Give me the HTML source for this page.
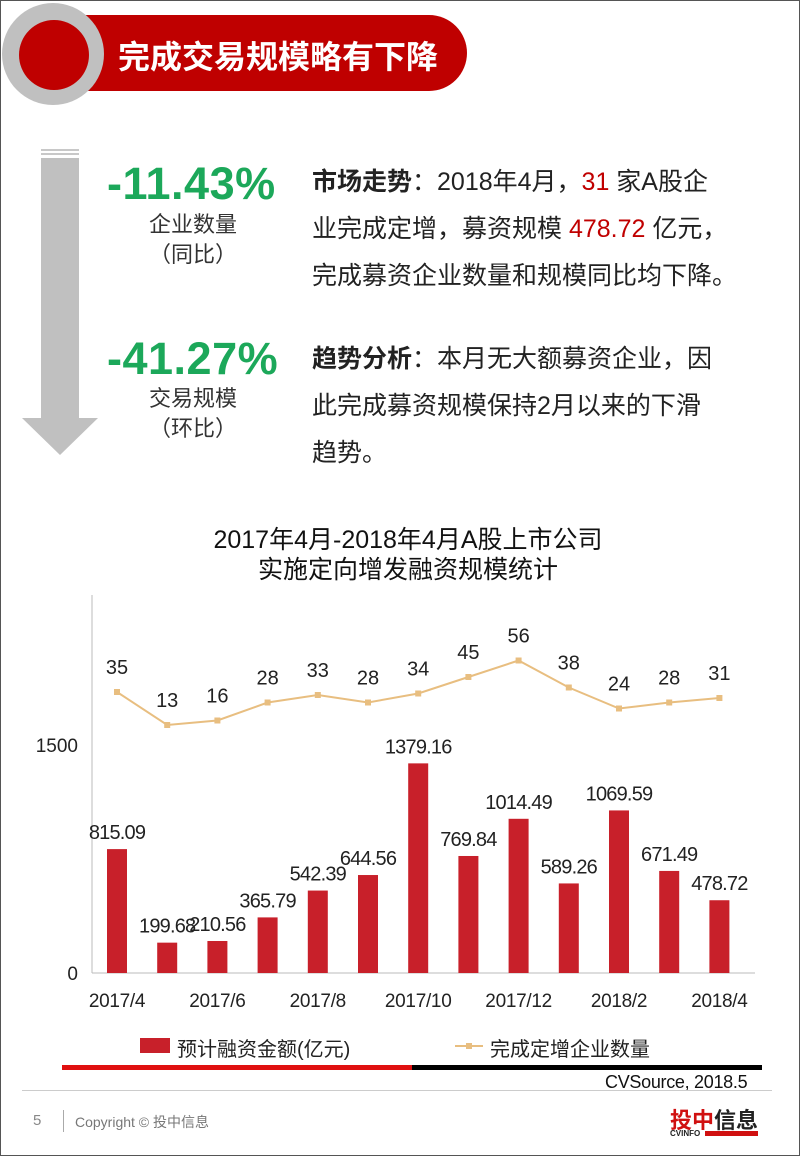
<!DOCTYPE html>
<html><head><meta charset="utf-8">
<style>
body{margin:0;width:800px;height:1156px;position:relative;overflow:hidden;background:#fff;font-family:"Liberation Sans","Noto Sans CJK SC",sans-serif;}
.abs{position:absolute;}
.txt{font-size:25px;color:#222;white-space:nowrap;}
.red{color:#c00000;}
.green{color:#1ca85a;font-weight:bold;font-size:45px;letter-spacing:0.5px;}
.sub{font-size:22px;color:#333;text-align:center;width:160px;}
</style></head><body>
<div class="abs" style="left:0;top:0;width:798px;height:1154px;border:1px solid #555;"></div>
<div class="abs" style="left:85px;top:15px;width:382px;height:76px;background:#bf0000;border-radius:0 38px 38px 0;"></div>
<div class="abs" style="left:2px;top:3px;width:102px;height:102px;border-radius:50%;background:#c0c0c0;"></div>
<div class="abs" style="left:19px;top:20px;width:70px;height:70px;border-radius:50%;background:#bf0000;"></div>
<div class="abs" style="left:118px;top:32px;font-size:32px;font-weight:bold;color:#fff;white-space:nowrap;">完成交易规模略有下降</div>

<svg class="abs" style="left:0;top:140px" width="110" height="320">
<rect x="41" y="9" width="38" height="2" fill="#c8c8c8"/><rect x="41" y="13" width="38" height="2" fill="#c8c8c8"/>
<polygon points="41,18 79,18 79,278 98,278 60,315 22,278 41,278" fill="#c0c0c0"/>
</svg>
<div class="abs green" style="left:107px;top:158px;">-11.43%</div>
<div class="abs sub" style="left:113px;top:210px;line-height:30px;">企业数量<br>（同比）</div>
<div class="abs green" style="left:107px;top:333px;">-41.27%</div>
<div class="abs sub" style="left:113px;top:384px;line-height:30px;">交易规模<br>（环比）</div>

<div class="abs txt" style="left:312px;top:159px;line-height:47px;"><b>市场走势</b>：2018年4月，<span class="red">31</span> 家A股企<br>业完成定增，募资规模 <span class="red">478.72</span> 亿元，<br>完成募资企业数量和规模同比均下降。</div>
<div class="abs txt" style="left:312px;top:336px;line-height:47px;"><b>趋势分析</b>：本月无大额募资企业，因<br>此完成募资规模保持2月以来的下滑<br>趋势。</div>

<div class="abs" style="left:0;width:816px;top:525px;text-align:center;font-size:25px;line-height:30px;color:#111;">2017年4月-2018年4月A股上市公司<br>实施定向增发融资规模统计</div>

<svg class="abs" id="chart" style="left:0;top:580px" width="800" height="440"></svg>

<div class="abs" style="left:140px;top:1038px;width:30px;height:15px;background:#c8202a;"></div>
<div class="abs" style="left:177px;top:1033px;font-size:20px;color:#222;">预计融资金额(亿元)</div>
<svg class="abs" style="left:455px;top:1036px" width="30" height="20"><line x1="0" y1="10" x2="28" y2="10" stroke="#e8be80" stroke-width="2"/><rect x="11" y="7" width="6" height="6" fill="#e8be80"/></svg>
<div class="abs" style="left:490px;top:1033px;font-size:20px;color:#222;">完成定增企业数量</div>

<div class="abs" style="left:62px;top:1065px;width:350px;height:5px;background:#e01010;"></div>
<div class="abs" style="left:412px;top:1065px;width:350px;height:5px;background:#000;"></div>
<div class="abs" style="left:605px;top:1072px;font-size:18px;color:#111;letter-spacing:-0.3px;">CVSource, 2018.5</div>
<div class="abs" style="left:22px;top:1090px;width:750px;height:1px;background:#ccc;"></div>
<div class="abs" style="left:33px;top:1112px;font-size:15px;color:#888;">5</div>
<div class="abs" style="left:63px;top:1110px;width:1px;height:22px;background:#aaa;"></div>
<div class="abs" style="left:75px;top:1112px;font-size:14px;color:#777;">Copyright © 投中信息</div>
<div class="abs" style="left:670px;top:1103px;font-size:22px;font-weight:bold;white-space:nowrap;"><span style="color:#d01010">投中</span><span style="color:#222">信息</span></div>
<div class="abs" style="left:670px;top:1129px;font-size:8px;font-weight:bold;color:#222;">CVINFO</div>
<div class="abs" style="left:705px;top:1131px;width:53px;height:5px;background:#d01010;"></div>

<script>
const categories=["2017/4","2017/5","2017/6","2017/7","2017/8","2017/9","2017/10","2017/11","2017/12","2018/1","2018/2","2018/3","2018/4"];
const amounts=[815.09,199.68,210.56,365.79,542.39,644.56,1379.16,769.84,1014.49,589.26,1069.59,671.49,478.72];
const counts=[35,13,16,28,33,28,34,45,56,38,24,28,31];
const yTicks=[0,1500];
const svg=document.getElementById('chart');
const NS='http://www.w3.org/2000/svg';
const OY=580;
const x=i=>117+i*50.2;
const y=v=>973-OY-v*228/1500;
const y2=v=>744.5-OY-v*1.5;
function mk(t,a){const e=document.createElementNS(NS,t);for(const k in a)e.setAttribute(k,a[k]);svg.appendChild(e);return e;}
const ax=mk('line',{x1:92,y1:15,x2:92,y2:y(0),stroke:'#bbb'});


const bx=mk('line',{x1:92,y1:y(0),x2:755,y2:y(0),stroke:'#bbb'});


yTicks.forEach(t=>{const e=mk('text',{x:78,y:y(t)+7,'text-anchor':'end','font-size':19,fill:'#222'});e.textContent=t;

});
amounts.forEach((v,i)=>{
const r=mk('rect',{x:x(i)-10,y:y(v),width:20,height:y(0)-y(v),fill:'#c8202a'});


const t=mk('text',{x:x(i),y:y(v)-10,'text-anchor':'middle','font-size':20,'letter-spacing':'-0.8',fill:'#222'});t.textContent=v.toFixed(2);


if(i%2===0){const c=mk('text',{x:x(i),y:y(0)+34,'text-anchor':'middle','font-size':19,'letter-spacing':'-0.3',fill:'#222'});c.textContent=categories[i];

}
});
const pl=mk('polyline',{points:counts.map((v,i)=>x(i)+','+y2(v)).join(' '),fill:'none',stroke:'#e8be80','stroke-width':2});


counts.forEach((v,i)=>{
const p=mk('rect',{x:x(i)-3,y:y2(v)-3,width:6,height:6,fill:'#e8be80'});


const t=mk('text',{x:x(i),y:y2(v)-18,'text-anchor':'middle','font-size':20,fill:'#222'});t.textContent=v;


});
</script>
</body></html>
